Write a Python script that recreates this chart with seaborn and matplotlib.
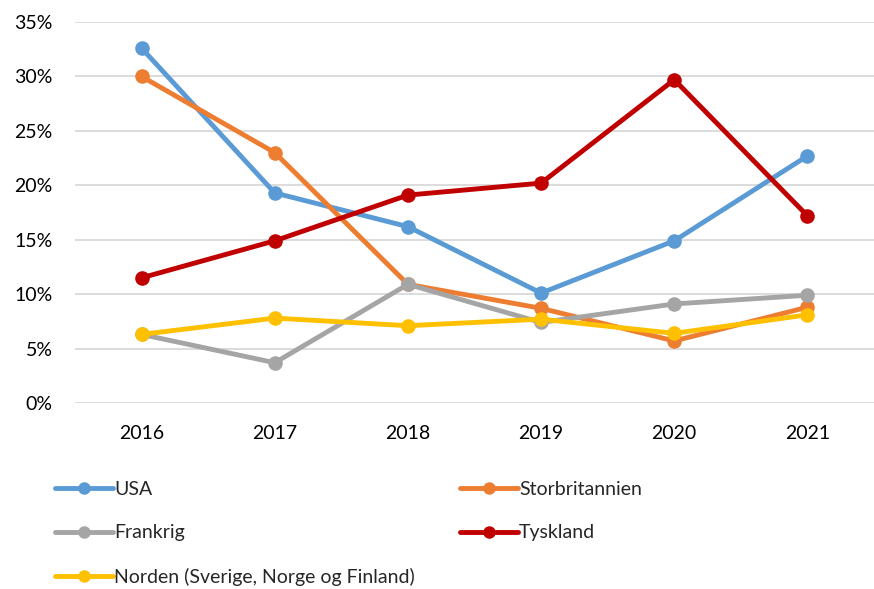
import pandas as pd
import matplotlib.pyplot as plt
import seaborn as sns
from matplotlib.lines import Line2D
from matplotlib.ticker import PercentFormatter

# -------------------------------
# DATA
# -------------------------------

years = ["2016", "2017", "2018", "2019", "2020", "2021"]

usa = [32.6, 19.3, 16.2, 10.1, 14.9, 22.7]
storbritannien = [30.0, 23.0, 10.9, 8.7, 5.7, 8.8]
frankrig = [6.3, 3.7, 10.9, 7.4, 9.1, 9.9]
tyskland = [11.5, 14.9, 19.1, 20.2, 29.7, 17.2]
norden = [6.3, 7.8, 7.1, 7.7, 6.4, 8.1]

series_names = ["USA", "Storbritannien", "Frankrig", "Tyskland",
                "Norden (Sverige, Norge og Finland)"]
series_values = [usa, storbritannien, frankrig, tyskland, norden]
colors = ["#5B9BD5", "#ED7D31", "#A5A5A5", "#C00000", "#FFC000"]

rows = []
for name, vals in zip(series_names, series_values):
    for yr, v in zip(years, vals):
        rows.append({"year": yr, "value": v, "series": name})
df = pd.DataFrame(rows)

# -------------------------------
# PLOT
# -------------------------------

sns.set_style("white")
plt.rcParams["font.family"] = ["Lato", "DejaVu Sans"]

fig = plt.figure(figsize=(8.74, 5.89), dpi=100)
ax = fig.add_axes([0.0858, 0.3158, 0.9142, 0.6468])

palette = dict(zip(series_names, colors))

sns.lineplot(
    data=df, x="year", y="value", hue="series",
    hue_order=series_names, palette=palette,
    marker="o", markersize=10.5, markeredgewidth=0,
    linewidth=3.5, sort=False, legend=False, ax=ax
)

ax.set_ylim(0, 35)
ax.set_yticks(range(0, 36, 5))
ax.yaxis.set_major_formatter(PercentFormatter(decimals=0))
ax.set_xlim(-0.5, 5.5)
ax.set_xlabel("")
ax.set_ylabel("")

ax.grid(axis="y", color="#D9D9D9", linewidth=1.3)
ax.set_axisbelow(True)
for s in ax.spines.values():
    s.set_visible(False)

ax.tick_params(axis="y", length=0, pad=16, labelsize=14, colors="#000000")
ax.tick_params(axis="x", length=0, pad=16, labelsize=14, colors="#000000")

# legend: two columns, filled column-wise
order = [0, 2, 4, 1, 3]
handles = [Line2D([0], [0], color=colors[i], linewidth=3.5, marker="o",
                  markersize=9, markeredgewidth=0) for i in order]
labels = [series_names[i] for i in order]

fig.legend(
    handles, labels, ncol=2,
    loc="upper left", bbox_to_anchor=(0.043, 0.213),
    frameon=False, fontsize=14,
    handlelength=3.0, handletextpad=0.05,
    columnspacing=2.3, labelspacing=1.36
)

plt.savefig("out.png", dpi=100)
plt.close()
